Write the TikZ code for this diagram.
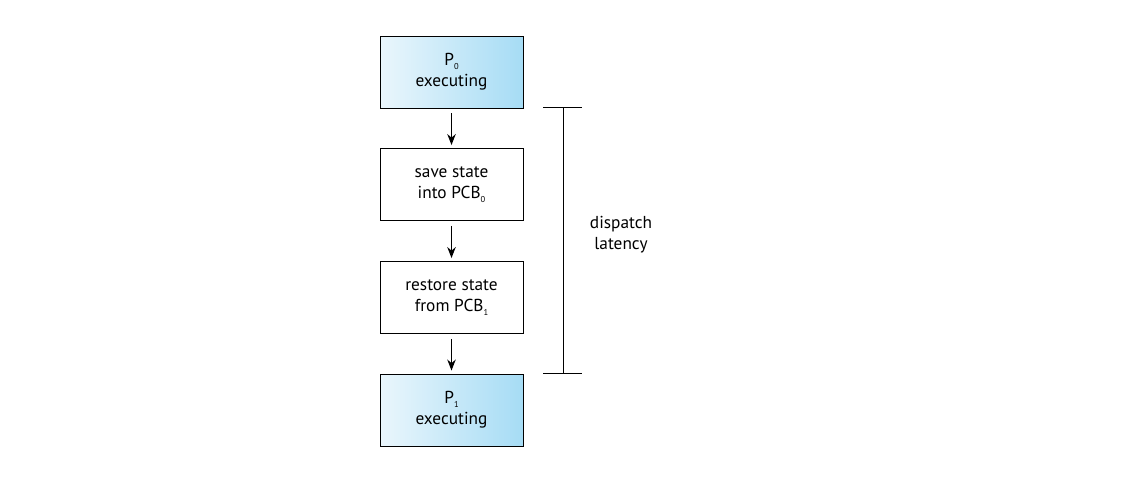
\documentclass[tikz,border=0pt]{standalone}
\usepackage{fontspec}
\setmainfont{PT Sans}
\usetikzlibrary{arrows.meta}
\definecolor{execL}{HTML}{EAF6FC}
\definecolor{execR}{HTML}{A6DCF5}
\newcommand{\lowsub}[1]{\raisebox{-4pt}{\fontsize{8.5}{8.5}\selectfont #1}}
\begin{document}
\begin{tikzpicture}[x=1pt,y=-1pt,
  box/.style={draw=black, line width=0.9pt, minimum width=143pt, minimum height=72pt, align=center, font=\fontsize{17.3}{21}\selectfont, inner sep=0pt},
  exec/.style={box, left color=execL, right color=execR},
  flow/.style={-{Stealth[length=11pt,width=8.5pt]}, line width=1.2pt},
  bar/.style={line width=0.9pt},
  lbl/.style={font=\fontsize{17.3}{21}\selectfont, align=center}]
\useasboundingbox (0,0) rectangle (1134,479);
\node[exec] (p0) at (451.5,72) {P\lowsub{0}\\executing};
\node[box] (save) at (451.5,184.5) {save state\\into PCB\lowsub{0}};
\node[box] (restore) at (451.5,297.5) {restore state\\from PCB\lowsub{1}};
\node[exec] (p1) at (451.5,410) {P\lowsub{1}\\executing};
\draw[flow] ([yshift=-5pt]p0.south) -- ([yshift=3pt]save.north);
\draw[flow] ([yshift=-5pt]save.south) -- ([yshift=3pt]restore.north);
\draw[flow] ([yshift=-5pt]restore.south) -- ([yshift=3pt]p1.north);
\coordinate (tl) at (543,107);
\coordinate (tr) at (582,107);
\coordinate (bl) at (543,373);
\coordinate (br) at (582,373);
\coordinate (tm) at (563,107);
\coordinate (bm) at (563,373);
\draw[bar] (tl) -- (tr);
\draw[bar] (bl) -- (br);
\draw[bar] (tm) -- (bm);
\node[lbl] (lat) at (621,235) {dispatch\\latency};
\end{tikzpicture}
\end{document}
